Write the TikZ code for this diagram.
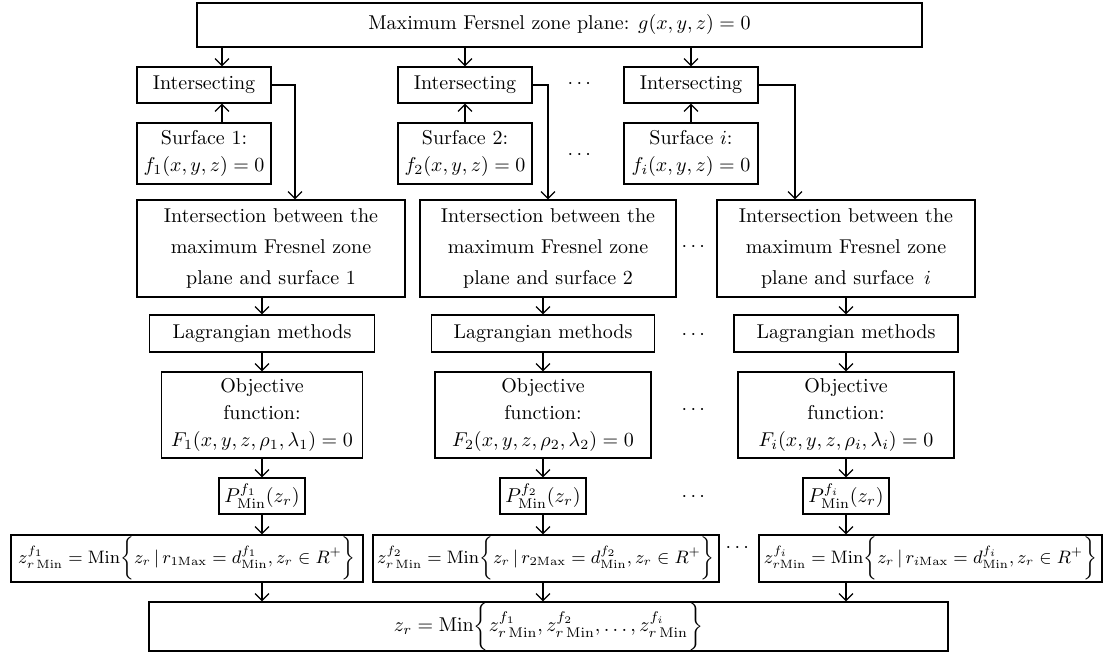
\documentclass[tikz,border=0pt]{standalone}
\usepackage{amsmath}
\usepackage{amssymb}
\usetikzlibrary{arrows.meta}

\tikzset{
  box/.style={draw, line width=0.6pt, inner sep=0pt, align=center, font=\fontsize{10}{13.5}\selectfont},
  widebox/.style={box, font=\fontsize{10}{15.5}\selectfont},
  minbox/.style={box, font=\fontsize{9}{11}\selectfont},
}

\begin{document}
\begin{tikzpicture}[x=0.5pt,y=-0.5pt,line width=0.6pt,>={Straight Barb[length=3.5pt,width=7pt]}]
			\useasboundingbox (0,0) rectangle (1104,653);
			\node[box,minimum width=362.5pt,minimum height=22pt] (plane) at (559.5,25) {Maximum Fersnel zone plane: $g(x,y,z)=0$};
			% intersecting and surfaces
			\node[box,minimum width=67pt,minimum height=18pt] (int1) at (204,85) {Intersecting};
			\node[box,minimum width=67pt,minimum height=18pt] (int2) at (465,85) {Intersecting};
			\node[box,minimum width=67pt,minimum height=18pt] (int3) at (691,85) {Intersecting};
			\node[box,minimum width=67pt,minimum height=30.5pt] (surf1) at (204,153.5) {Surface 1:\\$f_1(x,y,z)=0$};
			\node[box,minimum width=67pt,minimum height=30.5pt] (surf2) at (465,153.5) {Surface 2:\\$f_2(x,y,z)=0$};
			\node[box,minimum width=67pt,minimum height=30.5pt] (surf3) at (691,153.5) {Surface $i$:\\$f_i(x,y,z)=0$};
			\node[] (dotsa) at (581,84) {$\cdots$};
			\node[] (dotsb) at (581,155) {$\cdots$};
			% intersections
			\node[widebox,minimum width=134pt,minimum height=48.5pt] (sect1) at (271,248.5) {Intersection between the\\maximum Fresnel zone\\plane and surface 1};
			\node[widebox,minimum width=128pt,minimum height=48.5pt] (sect2) at (548,248.5) {Intersection between the\\maximum Fresnel zone\\plane and surface 2};
			\node[widebox,minimum width=129pt,minimum height=48.5pt] (sect3) at (846,248.5) {Intersection between the\\maximum Fresnel zone\\plane and surface $\,i$};
			\node[] (dotsc) at (695,247) {$\cdots$};
			\node[box,minimum width=112.5pt,minimum height=18.5pt] (lag1) at (262,333.5) {Lagrangian methods};
			\node[box,minimum width=111.5pt,minimum height=18.5pt] (lag2) at (543,333.5) {Lagrangian methods};
			\node[box,minimum width=112pt,minimum height=18.5pt] (lag3) at (846,333.5) {Lagrangian methods};
			\node[] (dotsd) at (695,335) {$\cdots$};
			\node[box,minimum width=100.5pt,minimum height=43pt] (obj1) at (262,415) {Objective\\function:\\$F_1(x,y,z,\rho_1,\lambda_1)=0$};
			\node[box,minimum width=108pt,minimum height=43pt] (obj2) at (543,415) {Objective\\function:\\$F_2(x,y,z,\rho_2,\lambda_2)=0$};
			\node[box,minimum width=108pt,minimum height=43pt] (obj3) at (846,415) {Objective\\function:\\$F_i(x,y,z,\rho_i,\lambda_i)=0$};
			\node[] (dotse) at (695,410) {$\cdots$};
			\node[box,minimum width=43pt,minimum height=18pt] (pmin1) at (262,496) {$P_{\mathrm{Min}}^{f_1}(z_r)$};
			\node[box,minimum width=43pt,minimum height=18pt] (pmin2) at (543,496) {$P_{\mathrm{Min}}^{f_2}(z_r)$};
			\node[box,minimum width=43pt,minimum height=18pt] (pmin3) at (846,496) {$P_{\mathrm{Min}}^{f_i}(z_r)$};
			\node[] (dotsf) at (695,497) {$\cdots$};
			% minimum heights
			\node[minbox,minimum width=176pt,minimum height=23.5pt] (zmin1) at (187,558.5) {$z_{r\,\mathrm{Min}}^{f_1}=\mathrm{Min}\bigg\{z_r\,|\,r_{1\mathrm{Max}}=d_{\mathrm{Min}}^{f_1},z_r\in R^+\bigg\}$};
			\node[minbox,minimum width=173pt,minimum height=23.5pt] (zmin2) at (546,558.5) {$z_{r\,\mathrm{Min}}^{f_2}=\mathrm{Min}\bigg\{z_r\,|\,r_{2\mathrm{Max}}=d_{\mathrm{Min}}^{f_2},z_r\in R^+\bigg\}$};
			\node[minbox,minimum width=171.5pt,minimum height=23.5pt] (zmin3) at (930.5,558.5) {$z_{r\mathrm{Min}}^{f_i}=\mathrm{Min}\bigg\{z_r\,|\,r_{i\mathrm{Max}}=d_{\mathrm{Min}}^{f_i},z_r\in R^+\bigg\}$};
			\node[] (dotsg) at (739,548) {$\cdots$};
			\node[box,minimum width=399.5pt,minimum height=24.5pt] (zr) at (548.5,626.5) {$z_r=\mathrm{Min}\bigg\{z_{r\,\mathrm{Min}}^{f_1},z_{r\,\mathrm{Min}}^{f_2},\ldots,z_{r\,\mathrm{Min}}^{f_i}\bigg\}$};
			% arrows
			\draw[->] ([xshift=9pt]int1.north |- plane.south) -- ([xshift=9pt]int1.north);
			\draw[->] (int2.north |- plane.south) -- (int2.north);
			\draw[->] (int3.north |- plane.south) -- (int3.north);
			\draw[->] ([xshift=9pt]surf1.north) -- ([xshift=9pt]int1.south);
			\draw[->] (surf2) -- (int2);
			\draw[->] (surf3) -- (int3);
			\draw[->] (int1.east) -| ([xshift=12pt]sect1.north);
			\draw[->] (int2.east) -| (sect2.north);
			\draw[->] (int3.east) -| ([xshift=-25.5pt]sect3.north);
			\draw[->] (sect1.south -| lag1) -- (lag1);
			\draw[->] (sect2.south -| lag2) -- (lag2);
			\draw[->] (sect3.south -| lag3) -- (lag3);
			\draw[->] (lag1) -- (obj1);
			\draw[->] (lag2) -- (obj2);
			\draw[->] (lag3) -- (obj3);
			\draw[->] (obj1) -- (pmin1);
			\draw[->] (obj2) -- (pmin2);
			\draw[->] (obj3) -- (pmin3);
			\draw[->] (pmin1) -- (pmin1 |- zmin1.north);
			\draw[->] (pmin2) -- (pmin2 |- zmin2.north);
			\draw[->] (pmin3) -- (pmin3 |- zmin3.north);
			\draw[->] (zmin1.south -| pmin1) -- (zr.north -| pmin1);
			\draw[->] (zmin2.south -| pmin2) -- (zr.north -| pmin2);
			\draw[->] (zmin3.south -| pmin3) -- (zr.north -| pmin3);
		\end{tikzpicture}
\end{document}
